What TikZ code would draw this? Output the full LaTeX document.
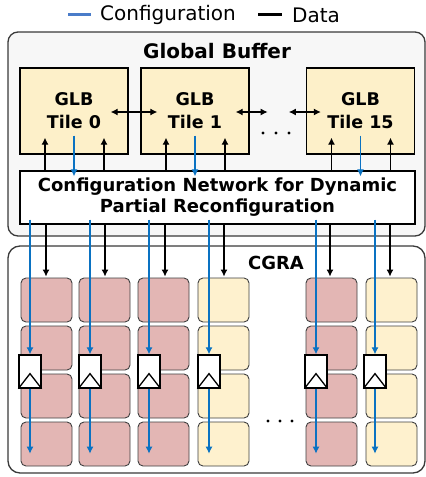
\documentclass[tikz,border=0pt]{standalone}
\usepackage{fontspec}
\setmainfont{DejaVu Sans}
\usetikzlibrary{arrows.meta,calc}
\definecolor{cfgblue}{HTML}{0A72C2}
\definecolor{legblue}{HTML}{4A7CC9}
\definecolor{peRed}{HTML}{E3B6B4}
\definecolor{peYel}{HTML}{FEF1CE}
\definecolor{glbYel}{HTML}{FDF0C9}
\definecolor{frameGray}{HTML}{3A3A3A}
\definecolor{gbFill}{HTML}{F7F7F7}
\begin{document}
\begin{tikzpicture}[x=1pt,y=-1pt,
  outer/.style={draw=frameGray, line width=1.3pt, rounded corners=10pt, inner sep=0pt},
  glbtile/.style={draw=black, line width=1.3pt, fill=glbYel, minimum width=108pt,
    minimum height=86pt, inner sep=0pt, align=center,
    font=\bfseries\fontsize{17.5}{23}\selectfont},
  pebox/.style={draw=black!75, line width=0.9pt, rounded corners=5pt,
    minimum width=51pt, minimum height=44pt, inner sep=0pt},
  regbox/.style={draw=black, line width=1.3pt, fill=white, minimum width=22pt,
    minimum height=33pt, inner sep=0pt},
  data/.style={black, line width=1.2pt, -{Latex[length=7pt,width=7pt]}},
  cfg/.style={cfgblue, line width=1.2pt, -{Latex[length=7pt,width=7pt]}},
  dbl/.style={black, line width=1.2pt, {Latex[length=7pt,width=7pt]}-{Latex[length=7pt,width=7pt]}},
  dotmark/.style={fill=black, draw=none}]
\useasboundingbox (0,0) rectangle (426,477);

% legend
\draw[legblue, line width=3pt] (68,14) -- (91,14);
\node[anchor=west, inner sep=0pt, font=\fontsize{20}{24}\selectfont] (legcfg) at (100,15) {Configuration};
\draw[black, line width=3pt] (258,14) -- (282,14);
\node[anchor=west, inner sep=0pt, font=\fontsize{20}{24}\selectfont] (legdata) at (292,15) {Data};

% global buffer frame
\node[outer, fill=gbFill, minimum width=417pt, minimum height=204pt] (gb) at (216.5,134) {};
\node[font=\bfseries\fontsize{20}{24}\selectfont] (gbtitle) at (217,51) {Global Buffer};

% GLB tiles
\node[glbtile] (t0) at (74,111) {GLB\\Tile 0};
\node[glbtile] (t1) at (195,111) {GLB\\Tile 1};
\node[glbtile] (t15) at (360.5,111) {GLB\\Tile 15};

% configuration network
\node[draw=black, line width=1.3pt, fill=white, minimum width=395pt, minimum height=53pt,
  inner sep=0pt, align=center, font=\bfseries\fontsize{18}{21}\selectfont]
  (cn) at (217.5,197.5) {Configuration Network for Dynamic\\Partial Reconfiguration};

% links between neighbouring tiles
\draw[dbl] ($(t0.east)+(-18,1)$) -- ($(t1.west)+(17,1)$);
\draw[dbl] ($(t1.east)+(-14,1)$) -- ($(t1.east)+(18,1)$);
\draw[dbl] ($(t15.west)+(-17,1)$) -- ($(t15.west)+(15,1)$);
\foreach \xx in {263,276,289} \fill[dotmark] (\xx,133) circle (1.7pt);

% tile <-> configuration network
\foreach \t in {t0,t1,t15} {
  \draw[cfg] ($(\t.south)+(0,-19)$) -- ($(\t.south |- cn.north)+(0,6)$);
  \foreach \dx in {-29,30}
    \draw[data] ($(\t.south |- cn.north)+(\dx,0)$) -- ($(\t.south)+(\dx,-17)$);
}

% CGRA frame
\node[outer, fill=white, rounded corners=12pt, minimum width=417pt, minimum height=227pt] (cgra) at (216.5,359.5) {};
\node[font=\bfseries\fontsize{18}{21}\selectfont] (cgratitle) at (276,263) {CGRA};

% processing elements, columns
\foreach \c/\xl/\col in {1/21/peRed,2/79/peRed,3/138/peRed,4/198/peYel,5/306/peRed,6/366/peYel} {
  \foreach \r/\yt in {1/278,2/326,3/374,4/422}
    \node[pebox, fill=\col] (pe\c\r) at ({\xl+25.5},{\yt+22}) {};
}

% configuration registers and paths
\foreach \c/\bx in {1/30,2/90,3/149,4/209,5/316,6/375} {
  \node[regbox] (r\c) at (\bx,371.5) {};
  \draw[black, line width=1.3pt, line join=miter] (r\c.south west) -- ($(r\c.south)+(0,-15)$) -- (r\c.south east);
  \draw[cfg] ($(r\c.north |- cn.south)+(0,-5)$) -- (r\c.north);
  \draw[cfg] (r\c.south) -- ($(r\c.south)+(0,65)$);
}

% data into the array
\foreach \c/\dxx in {1/46,2/105,3/165,4/224,5/330,6/390}
  \draw[data] (\dxx,0 |- cn.south) -- ($(\dxx,0 |- pe\c1.north)+(0,-1)$);

\foreach \xx in {268,280,292} \fill[dotmark] (\xx,421) circle (1.7pt);
\end{tikzpicture}
\end{document}
